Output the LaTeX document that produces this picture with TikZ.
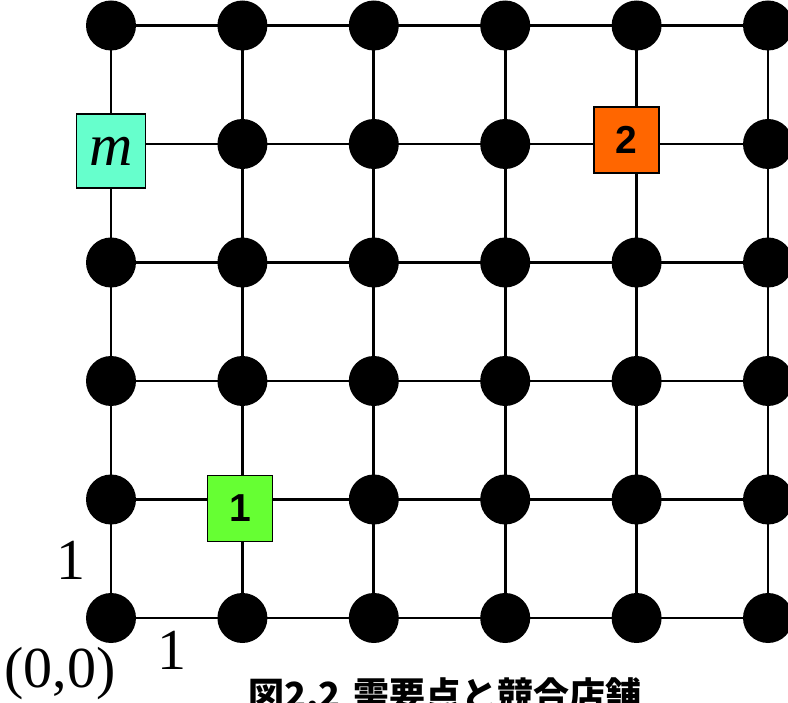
\documentclass[tikz,border=0pt]{standalone}
\usepackage{fontspec}
\setmainfont{Liberation Serif}
\newfontfamily\boxfont{Liberation Sans}
\newfontfamily\jpfont{Noto Sans CJK JP}
\usetikzlibrary{positioning}

\definecolor{mgreen}{RGB}{102,255,204}
\definecolor{storeorange}{RGB}{255,102,0}
\definecolor{storegreen}{RGB}{102,255,51}

\begin{document}
\begin{tikzpicture}[
    x=1pt, y=-1pt,
    dot/.style={circle, fill=black, minimum size=50pt, inner sep=0pt},
    site/.style={
        rectangle, draw, line width=1.5pt, inner sep=0pt,
        minimum width=65pt, minimum height=66pt,
        font=\boxfont\bfseries\fontsize{39}{42}\selectfont
    },
    lbl/.style={font=\fontsize{58}{60}\selectfont, inner sep=0pt},
    gridline/.style={line width=2.8pt}
]
\useasboundingbox (0,0) rectangle (788,703);

% grid points
\foreach \i in {0,...,5}
  \foreach \j in {0,...,5}
    \coordinate (g-\i-\j) at ({111+131.4*\i},{618-118.5*\j});

% lines
\foreach \k in {0,...,5}{
  \draw[gridline] (g-0-\k) -- (g-5-\k);
  \draw[gridline] (g-\k-0) -- (g-\k-5);
}

% demand points
\foreach \i in {0,...,5}
  \foreach \j in {0,...,5}{
    \pgfmathtruncatemacro\taken{(\i==0 && \j==4) || (\i==4 && \j==4) || (\i==1 && \j==1)}
    \ifnum\taken=0 \node[dot] (d-\i-\j) at (g-\i-\j) {}; \fi
  }

% stores
\node[site, fill=mgreen, minimum width=69pt, minimum height=74pt,
      yshift=-7pt, font=\fontsize{60}{62}\selectfont\itshape] (m) at (g-0-4) {m};
\node[site, fill=storeorange, xshift=-10pt, yshift=4pt] (s2) at (g-4-4) {2};
\node[site, fill=storegreen, xshift=-2.5pt, yshift=-9pt] (s1) at (g-1-1) {1};

% axis labels
\node[lbl] (unity) at (71,560) {1};
\node[lbl] (unitx) at (172,650) {1};
\node[lbl] (origin) at (60,674) {(0,0)};

% caption
\node[anchor=base west, inner sep=0pt, font=\jpfont\bfseries\fontsize{36}{40}\selectfont]
    (caption) at (248,708) {図2.2\hspace{0.35em}需要点と競合店舗};

\end{tikzpicture}
\end{document}
